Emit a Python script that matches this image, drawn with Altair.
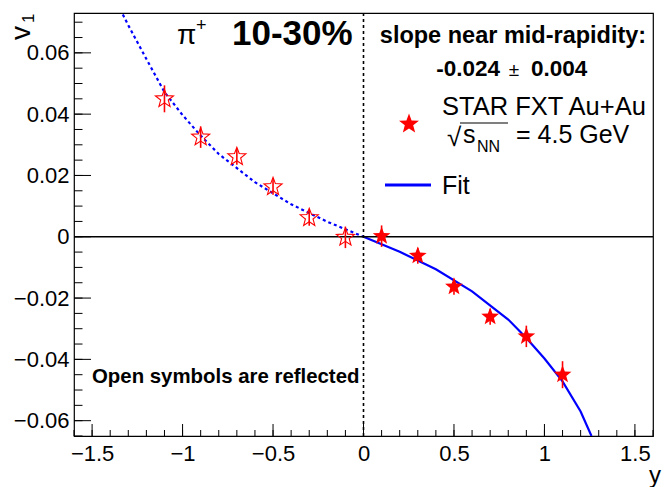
import altair as alt
import pandas as pd

# ---------------- data ----------------
rap_filled = [0.1, 0.3, 0.5, 0.7, 0.9, 1.1]
v1_filled = [0.0002, -0.0062, -0.0163, -0.0261, -0.0325, -0.0450]
err_filled = [0.0035, 0.0026, 0.0026, 0.0026, 0.0035, 0.0044]

rap_open = [-0.1, -0.3, -0.5, -0.7, -0.9, -1.1]
v1_open = [-0.0002, 0.0062, 0.0163, 0.0261, 0.0325, 0.0450]
err_open = [0.0035, 0.0026, 0.0026, 0.0026, 0.0035, 0.0044]

fit_rap = [0.0, 0.2, 0.4, 0.6, 0.8, 0.9, 1.0, 1.1, 1.2, 1.26]
fit_v1 = [0.0, -0.0049, -0.0106, -0.0178, -0.0270, -0.0330, -0.0397, -0.0472, -0.0570, -0.0650]

fitr_rap = [0.0, -0.2, -0.4, -0.6, -0.8, -0.9, -1.0, -1.1, -1.2, -1.3, -1.36]
fitr_v1 = [0.0, 0.0049, 0.0106, 0.0178, 0.0270, 0.0330, 0.0397, 0.0472, 0.0580, 0.0690, 0.0760]

x_major = [-1.5, -1.0, -0.5, 0.0, 0.5, 1.0, 1.5]
x_minor = [round(-1.6 + 0.1 * i, 2) for i in range(33)]
y_major = [-0.06, -0.04, -0.02, 0.0, 0.02, 0.04, 0.06]
y_minor = [round(-0.065 + 0.005 * i, 3) for i in range(28)]

X_DOM = [-1.6, 1.6]
Y_DOM = [-0.065, 0.073]
W, H = 579, 423
FONT = "Liberation Sans"
RED = "#ff0000"
BLUE = "#0000ff"
STAR = ("M0,-1L0.247,-0.34L0.951,-0.309L0.399,0.13L0.588,0.809L0,0.42"
        "L-0.588,0.809L-0.399,0.13L-0.951,-0.309L-0.247,-0.34Z")

df_f = pd.DataFrame({"x": rap_filled, "v": v1_filled, "e": err_filled})
df_f["lo"] = df_f.v - df_f.e
df_f["hi"] = df_f.v + df_f.e
df_o = pd.DataFrame({"x": rap_open, "v": v1_open, "e": err_open})
df_o["lo"] = df_o.v - df_o.e
df_o["hi"] = df_o.v + df_o.e
df_fit = pd.DataFrame({"x": fit_rap, "v": fit_v1})
df_fitr = pd.DataFrame({"x": fitr_rap, "v": fitr_v1})

xs = alt.Scale(domain=X_DOM, nice=False, zero=False)
ys = alt.Scale(domain=Y_DOM, nice=False, zero=False)

xaxis = alt.Axis(values=x_major, ticks=False, domain=False, grid=False, orient="bottom",
                 labelFont=FONT, labelFontSize=22, labelColor="black",
                 labelPadding=7, format=".1~f", title=None, labelFlush=False)
yaxis = alt.Axis(values=y_major, ticks=False, domain=False, grid=False, orient="left",
                 labelFont=FONT, labelFontSize=22, labelColor="black",
                 labelPadding=5, format=".2~f", title=None, labelFlush=False)


def X(f):
    return alt.X(f, scale=xs, axis=xaxis)


def Y(f):
    return alt.Y(f, scale=ys, axis=yaxis)


fit_line = alt.Chart(df_fit).mark_line(color=BLUE, strokeWidth=2.2, clip=True).encode(
    x=X("x:Q"), y=Y("v:Q"))
fitr_line = alt.Chart(df_fitr).mark_line(color=BLUE, strokeWidth=2.2, strokeDash=[3, 3], clip=True).encode(
    x=X("x:Q"), y=Y("v:Q"))

one = pd.DataFrame({"k": [0]})
zero_line = alt.Chart(one).mark_rule(color="black", strokeWidth=1.5).encode(
    y=alt.Y(datum=0.0, scale=ys, axis=yaxis))
mid_line = alt.Chart(one).mark_rule(color="black", strokeWidth=1.6, strokeDash=[3, 3]).encode(
    x=alt.X(datum=0.0, scale=xs, axis=xaxis))

err_f = alt.Chart(df_f).mark_rule(color=RED, strokeWidth=1.6).encode(
    x=X("x:Q"), y=Y("lo:Q"), y2="hi:Q")
err_o = alt.Chart(df_o).mark_rule(color=RED, strokeWidth=1.6).encode(
    x=X("x:Q"), y=Y("lo:Q"), y2="hi:Q")
pts_o = alt.Chart(df_o).mark_point(shape=STAR, filled=False, color=RED, size=360,
                                   strokeWidth=1.1, opacity=1).encode(x=X("x:Q"), y=Y("v:Q"))
pts_f = alt.Chart(df_f).mark_point(shape=STAR, filled=True, color=RED, size=350,
                                   opacity=1).encode(x=X("x:Q"), y=Y("v:Q"))

# inward ROOT-style ticks
df_xmaj = pd.DataFrame({"t": x_major})
df_xmin = pd.DataFrame({"t": x_minor})
df_ymaj = pd.DataFrame({"t": y_major})
df_ymin = pd.DataFrame({"t": y_minor})
tk_xmaj = alt.Chart(df_xmaj).mark_rule(color="black", strokeWidth=1).encode(
    x=X("t:Q"), y=alt.value(H), y2=alt.value(H - 12))
tk_xmin = alt.Chart(df_xmin).mark_rule(color="black", strokeWidth=1).encode(
    x=X("t:Q"), y=alt.value(H), y2=alt.value(H - 6))
tk_ymaj = alt.Chart(df_ymaj).mark_rule(color="black", strokeWidth=1).encode(
    y=Y("t:Q"), x=alt.value(0), x2=alt.value(17))
tk_ymin = alt.Chart(df_ymin).mark_rule(color="black", strokeWidth=1).encode(
    y=Y("t:Q"), x=alt.value(0), x2=alt.value(8.5))


def txt(s, x, y, size, bold=False, align="left", angle=0, color="black"):
    kw = dict(font=FONT, fontSize=size, fontWeight="bold" if bold else "normal",
              align=align, baseline="alphabetic", color=color)
    if angle:
        kw["angle"] = angle
    return alt.Chart(one).mark_text(**kw).encode(
        x=alt.value(x), y=alt.value(y), text=alt.value(s))


texts = [
    txt("π", 103, 31, 28),
    txt("+", 122, 18, 18),
    txt("10-30%", 158, 32, 35, bold=True),
    txt("slope near mid-rapidity:", 439, 30, 23.5, bold=True, align="center"),
    txt("-0.024", 426, 63, 22.5, bold=True, align="right"),
    txt("±", 440, 63, 19, align="center"),
    txt("0.004", 457, 63, 22.5, bold=True),
    txt("STAR FXT Au+Au", 368, 102, 25.5),
    txt("√", 373, 133, 26),
    txt("s", 389, 130, 25),
    txt("NN", 403, 139, 16),
    txt("= 4.5 GeV", 442, 130, 25),
    txt("Fit", 368, 181, 25),
    txt("Open symbols are reflected", 18, 370, 20.4, bold=True),
    txt("y", W + 8, 470, 24, align="right"),
    txt("v", -44, 27, 28, angle=270),
    txt("1", -40, 10, 17, angle=270),
]

sqrt_bar = alt.Chart(one).mark_rule(color="black", strokeWidth=1.2).encode(
    x=alt.value(386), x2=alt.value(434), y=alt.value(110))
leg_line = alt.Chart(one).mark_rule(color=BLUE, strokeWidth=3).encode(
    x=alt.value(311), x2=alt.value(357), y=alt.value(172))
leg_star = alt.Chart(one).mark_point(shape=STAR, filled=True, color=RED, size=440, opacity=1).encode(
    x=alt.value(335), y=alt.value(111))

chart = alt.layer(
    fit_line, fitr_line, zero_line, mid_line,
    tk_xmaj, tk_xmin, tk_ymaj, tk_ymin,
    err_o, err_f, pts_o, pts_f,
    sqrt_bar, leg_line, leg_star, *texts
).properties(
    width=W, height=H,
    autosize=alt.AutoSizeParams(type="none"),
    padding={"left": 74, "top": 13, "right": 15, "bottom": 51},
    background="white",
).configure_view(stroke="black", strokeWidth=1.2)

chart.save("out.html", embed_options={"renderer": "svg", "actions": False})
